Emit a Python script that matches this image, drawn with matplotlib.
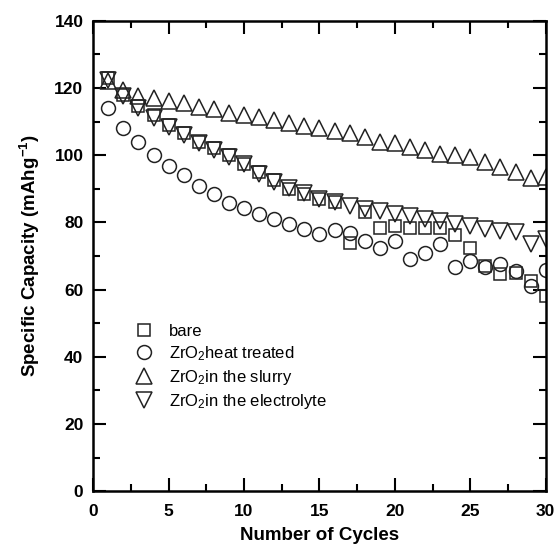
import matplotlib
matplotlib.use('Agg')
import matplotlib.pyplot as plt

plt.rcParams['font.family'] = ['Liberation Sans', 'DejaVu Sans']
plt.rcParams['mathtext.fontset'] = 'custom'
plt.rcParams['mathtext.rm'] = 'Liberation Sans'
plt.rcParams['mathtext.it'] = 'Liberation Sans'
plt.rcParams['mathtext.bf'] = 'Liberation Sans:bold'

# Daten
cycles = list(range(1, 31))
bare = [123, 118, 114.5, 112, 109, 106.5, 104, 102, 100, 97.5,
        95, 92.5, 90, 88.5, 87, 86, 73.8, 83, 78.3, 78.8,
        78.3, 78.3, 78.3, 76.3, 72.5, 67, 64.6, 65, 62.6, 58.2]
heat = [114.1, 108.1, 104, 100, 96.8, 94.1, 90.8, 88.4, 85.9, 84.2,
        82.4, 80.9, 79.5, 78, 76.5, 77.8, 76.7, 74.5, 72.5, 74.5,
        69.1, 71, 73.5, 66.8, 68.4, 66.6, 67.6, 65.6, 61.2, 65.9]
slurry = [122, 119.5, 117.5, 117, 116, 115.4, 114.4, 113.7, 112.5, 112,
          111.3, 110.5, 109.5, 108.7, 108, 107.3, 106.5, 105.5, 104, 103.5,
          102.5, 101.5, 100.5, 100, 99.5, 98, 96.5, 95, 93.3, 93.6]
electrolyte = [122.5, 117.5, 114, 111, 108.5, 106, 103.5, 101.5, 99.5, 97.5,
               94.5, 92, 90.3, 88.8, 87, 86, 85, 84, 83.4, 82.4,
               81.9, 81, 80.4, 79.4, 78.9, 78, 77.5, 77, 73.5, 75]

fig = plt.figure(figsize=(5.58, 5.47), dpi=100)
ax = fig.add_axes([0.167, 0.102, 0.811, 0.86])

ec = '#222222'
kw = dict(linestyle='none', markerfacecolor='none', markeredgecolor=ec,
          markeredgewidth=1.1)
ax.plot(cycles, bare, marker='s', markersize=9, label='bare', **kw)
ax.plot(cycles, heat, marker='o', markersize=10, label=r'ZrO$_2$heat treated', **kw)
ax.plot(cycles, slurry, marker='^', markersize=11, label=r'ZrO$_2$in the slurry', **kw)
ax.plot(cycles, electrolyte, marker='v', markersize=11, label=r'ZrO$_2$in the electrolyte', **kw)

ax.set_xlim(0, 30)
ax.set_ylim(0, 140)
ax.set_xticks(range(0, 31, 5))
ax.set_xticks([2.5 + 5 * i for i in range(6)], minor=True)
ax.set_yticks(range(0, 141, 20))
ax.set_yticks(range(10, 140, 20), minor=True)

for s in ax.spines.values():
    s.set_linewidth(1.8)
ax.tick_params(which='both', direction='in', top=True, right=True, width=1.5)
ax.tick_params(which='major', length=9.5, labelsize=12.5)
ax.tick_params(axis='x', which='major', pad=9)
ax.tick_params(axis='y', which='major', pad=7)
ax.tick_params(which='minor', length=5)
for lbl in ax.get_xticklabels() + ax.get_yticklabels():
    lbl.set_fontweight('bold')

ax.set_xlabel('Number of Cycles', fontsize=13.5, fontweight='bold', labelpad=6)
ax.set_ylabel(r'Specific Capacity (mAhg$^{\mathbf{-1}}$)', fontsize=13.5,
              fontweight='bold', labelpad=9)

ax.legend(loc='upper left', bbox_to_anchor=(0.06, 0.37), frameon=False,
          fontsize=12, handletextpad=0.5, labelspacing=0.3, borderaxespad=0)

fig.savefig('out.png', dpi=100)
